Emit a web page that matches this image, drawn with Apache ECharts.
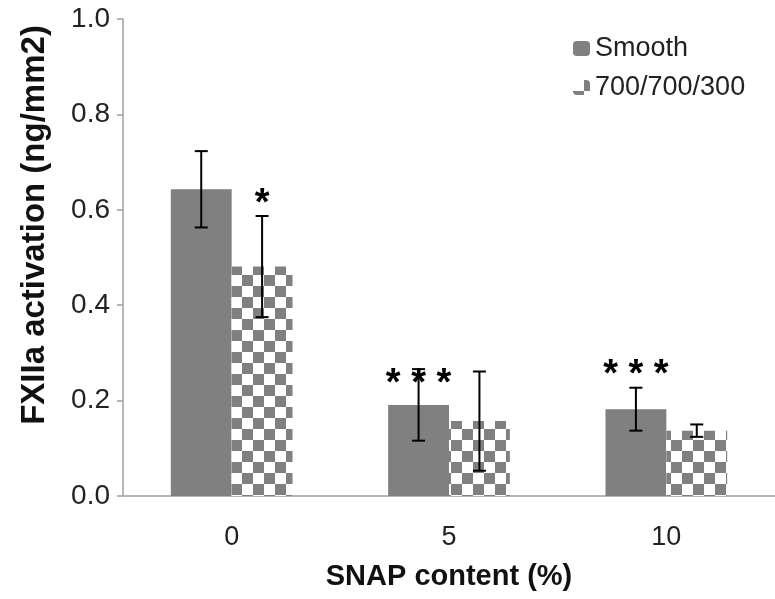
<!DOCTYPE html>
<html>
<head>
<meta charset="utf-8">
<script src="https://cdn.jsdelivr.net/npm/echarts@6/dist/echarts.min.js"></script>
<style>
  html, body { margin: 0; padding: 0; background: #fff; }
  #chart { width: 775px; height: 599px; }
</style>
</head>
<body>
<div id="chart"></div>
<script>
const categories = ['0', '5', '10'];
const smoothMean = [0.643, 0.191, 0.182];
const smoothErr = [0.080, 0.075, 0.045];
const patternMean = [0.481, 0.157, 0.137];
const patternErr = [0.106, 0.104, 0.013];
const yTicks = [0.0, 0.2, 0.4, 0.6, 0.8, 1.0];
// significance marks
const sigCategory = [0, 1, 2];
const sigSide = [1, -1, -1]; // -1 = Smooth bar, 1 = 700/700/300 bar
const sigText = ['*', '* * *', '* * *'];
const sigLevel = [0.612, 0.234, 0.252];

const FONT = '"Liberation Sans", Arial, sans-serif';
const GREY = '#808080';
const BAR_FRAC = 0.28;

const chart = echarts.init(document.getElementById('chart'), null, { renderer: 'canvas' });

function errorSeries(mean, err, side) {
  return {
    type: 'custom',
    z: 5,
    silent: true,
    encode: { x: 0, y: [1, 2] },
    data: mean.map((m, i) => [i, m - err[i], m + err[i]]),
    renderItem: function (params, api) {
      const band = api.size([1, 0])[0];
      const off = side * band * BAR_FRAC / 2;
      const lo = api.coord([api.value(0), api.value(1)]);
      const hi = api.coord([api.value(0), api.value(2)]);
      const x = lo[0] + off;
      const cap = 6.5;
      const st = { stroke: '#000', lineWidth: 2 };
      return {
        type: 'group',
        children: [
          { type: 'line', shape: { x1: x, y1: lo[1], x2: x, y2: hi[1] }, style: st },
          { type: 'line', shape: { x1: x - cap, y1: hi[1], x2: x + cap, y2: hi[1] }, style: st },
          { type: 'line', shape: { x1: x - cap, y1: lo[1], x2: x + cap, y2: lo[1] }, style: st }
        ]
      };
    }
  };
}

const option = {
  animation: false,
  backgroundColor: '#fff',
  grid: { left: 123, top: 19, width: 660, height: 477 },
  legend: {
    orient: 'vertical',
    left: 568,
    top: 30,
    itemWidth: 17,
    itemHeight: 15,
    itemGap: 12,
    data: ['Smooth', '700/700/300'],
    textStyle: { fontSize: 27, color: '#222', fontFamily: FONT }
  },
  xAxis: {
    type: 'category',
    data: categories,
    axisLine: { lineStyle: { color: '#a0a0a0', width: 1.5 } },
    axisTick: { length: 7, lineStyle: { color: '#a0a0a0', width: 1.5 } },
    axisLabel: { margin: 28, fontSize: 27, color: '#222', fontFamily: FONT },
    name: 'SNAP content (%)',
    nameLocation: 'middle',
    nameGap: 66,
    nameTextStyle: { fontSize: 29, fontWeight: 'bold', color: '#111', fontFamily: FONT }
  },
  yAxis: {
    type: 'value',
    min: yTicks[0],
    max: yTicks[yTicks.length - 1],
    interval: yTicks[1] - yTicks[0],
    splitLine: { show: false },
    axisLine: { show: true, lineStyle: { color: '#a0a0a0', width: 1.5 } },
    axisTick: { show: true, length: 6, lineStyle: { color: '#a0a0a0', width: 1.5 } },
    axisLabel: {
      margin: 13, fontSize: 28, color: '#222', fontFamily: FONT,
      formatter: v => v.toFixed(1)
    }
  },
  graphic: [{
    type: 'text',
    x: 35,
    y: 225,
    rotation: Math.PI / 2,
    style: {
      text: 'FXIIa activation (ng/mm2)',
      font: 'bold 33px ' + FONT,
      fill: '#111',
      align: 'center',
      verticalAlign: 'middle'
    }
  }],
  series: [
    {
      name: 'Smooth',
      type: 'bar',
      barWidth: (BAR_FRAC * 100) + '%',
      barGap: 0,
      data: smoothMean,
      itemStyle: { color: GREY }
    },
    {
      name: '700/700/300',
      type: 'bar',
      barWidth: (BAR_FRAC * 100) + '%',
      barGap: 0,
      data: patternMean,
      itemStyle: {
        color: '#fff',
        decal: {
          symbol: 'rect',
          symbolSize: 1,
          color: GREY,
          backgroundColor: '#fff',
          dashArrayX: [[11, 11], [0, 11, 11, 0]],
          dashArrayY: [11, 0],
          rotation: 0
        }
      }
    },
    errorSeries(smoothMean, smoothErr, -1),
    errorSeries(patternMean, patternErr, 1),
    {
      type: 'custom',
      z: 6,
      silent: true,
      encode: { x: 0, y: 1 },
      data: sigCategory.map((c, i) => [c, sigLevel[i], sigSide[i], sigText[i]]),
      renderItem: function (params, api) {
        const band = api.size([1, 0])[0];
        const i = params.dataIndex;
        const p = api.coord([api.value(0), api.value(1)]);
        return {
          type: 'text',
          x: p[0] + sigSide[i] * band * BAR_FRAC / 2,
          y: p[1],
          style: {
            text: sigText[i],
            font: 'bold 38px ' + FONT,
            fill: '#000',
            align: 'center',
            verticalAlign: 'middle'
          }
        };
      }
    }
  ]
};

chart.setOption(option);
</script>
</body>
</html>
